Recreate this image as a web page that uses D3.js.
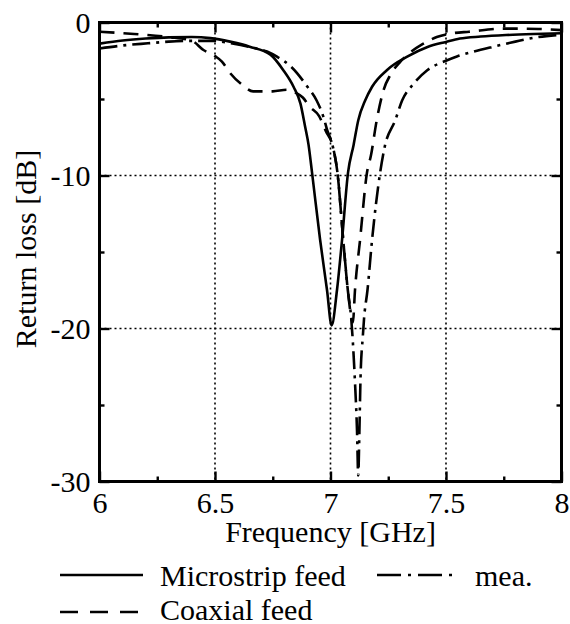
<!DOCTYPE html>
<html><head><meta charset="utf-8">
<script src="https://cdn.jsdelivr.net/npm/d3@7"></script>
<style>body{margin:0;background:#fff}svg{display:block}</style>
</head><body>
<script>
// Data (frequency in GHz, return loss in dB)
const microFreq = [6.00,6.10,6.20,6.30,6.40,6.48,6.565,6.65,6.74,6.795,6.84,6.87,6.89,6.905,6.92,6.955,6.985,7.005,7.028,7.05,7.076,7.10,7.12,7.15,7.18,7.245,7.33,7.42,7.50,7.56,7.65,7.76,7.88,8.00];
const microDB   = [-1.38,-1.18,-1.05,-0.97,-0.95,-1.02,-1.25,-1.58,-2.1,-3.1,-4.2,-5.3,-6.8,-8.0,-9.8,-14.2,-17.5,-19.8,-17.5,-14.2,-9.8,-8.0,-6.4,-5.1,-4.2,-3.1,-2.25,-1.6,-1.27,-1.05,-0.92,-0.82,-0.75,-0.7];
const coaxFreq = [6.00,6.15,6.30,6.40,6.45,6.50,6.53,6.565,6.62,6.665,6.75,6.81,6.85,6.88,6.91,6.95,6.98,7.01,7.03,7.055,7.075,7.097,7.106,7.128,7.158,7.175,7.20,7.23,7.26,7.30,7.35,7.40,7.46,7.53,7.60,7.75,7.90,8.00];
const coaxDB   = [-0.6,-0.75,-0.95,-1.2,-1.8,-2.2,-2.55,-3.3,-4.1,-4.5,-4.5,-4.4,-4.6,-4.9,-5.5,-6.1,-7.1,-8.1,-9.8,-14.2,-17.5,-19.6,-17.5,-14.2,-9.8,-8.7,-6.4,-4.4,-3.4,-2.6,-1.9,-1.4,-0.95,-0.7,-0.6,-0.4,-0.42,-0.5];
const meaFreq = [6.00,6.12,6.21,6.30,6.40,6.50,6.565,6.65,6.725,6.77,6.83,6.90,6.94,6.97,6.985,7.01,7.03,7.055,7.075,7.09,7.105,7.115,7.12,7.125,7.13,7.14,7.145,7.16,7.18,7.215,7.235,7.28,7.31,7.36,7.42,7.50,7.55,7.62,7.70,7.80,7.90,8.00];
const meaDB   = [-1.7,-1.47,-1.36,-1.25,-1.2,-1.2,-1.35,-1.6,-1.9,-2.25,-2.9,-4.2,-5.1,-6.2,-7.0,-8.1,-9.8,-14.2,-17.5,-19.4,-23.2,-26.8,-29.6,-26.8,-23.2,-20.5,-19.4,-17.5,-14.2,-9.8,-8.1,-6.4,-5.1,-4.0,-3.1,-2.5,-2.2,-1.9,-1.6,-1.25,-0.95,-0.8];
const xTicks = [6, 6.5, 7, 7.5, 8];
const xMinor = [6.25, 6.75, 7.25, 7.75];
const yTicks = [0, -10, -20, -30];
const yMinor = [-5, -15, -25];
const xGrid = [6.5, 7, 7.5];
const yGrid = [-10, -20];
const seriesNames = ["Microstrip feed", "mea.", "Coaxial feed"];

const W = 570, H = 624;
const L = 99.5, R = 561.5, T = 22.5, B = 481.5;
const FONT = "Liberation Serif";
const FS = 30;

const svg = d3.select("body").append("svg").attr("width", W).attr("height", H)
  .attr("font-family", FONT);

const x = d3.scaleLinear().domain([6, 8]).range([L, R]);
const y = d3.scaleLinear().domain([-30, 0]).range([B, T]);

// grid
const g = svg.append("g");
g.selectAll(".gx").data(xGrid).join("line")
  .attr("x1", d => x(d)).attr("x2", d => x(d)).attr("y1", T).attr("y2", B)
  .attr("stroke", "#000").attr("stroke-width", 1.6).attr("stroke-dasharray", "2,3");
g.selectAll(".gy").data(yGrid).join("line")
  .attr("x1", L).attr("x2", R).attr("y1", d => y(d)).attr("y2", d => y(d))
  .attr("stroke", "#000").attr("stroke-width", 1.6).attr("stroke-dasharray", "2,3");

// curves
const line = d3.line().x(d => x(d[0])).y(d => y(d[1])).curve(d3.curveMonotoneX);
const zip = (a, b) => a.map((v, i) => [v, b[i]]);
const styles = [
  {data: zip(microFreq, microDB), dash: null},
  {data: zip(meaFreq, meaDB), dash: "18,6,3,6"},
  {data: zip(coaxFreq, coaxDB), dash: "15,9"}
];
svg.append("defs").append("clipPath").attr("id", "clip")
  .append("rect").attr("x", L).attr("y", T).attr("width", R - L).attr("height", B - T);
const cg = svg.append("g").attr("clip-path", "url(#clip)");
styles.forEach(s => {
  cg.append("path").datum(s.data).attr("d", line)
    .attr("fill", "none").attr("stroke", "#000").attr("stroke-width", 2.6)
    .attr("stroke-dasharray", s.dash);
});

// axes
function styleAxis(sel) {
  sel.attr("font-family", FONT).attr("font-size", FS);
  sel.select(".domain").remove();
  sel.selectAll("line").attr("stroke", "#000").attr("stroke-width", 2.4);
  sel.selectAll("text").attr("fill", "#000").attr("font-family", FONT).attr("font-size", FS);
}
const fmt = d => String(d);
svg.append("g").attr("transform", `translate(0,${B})`)
  .call(d3.axisBottom(x).tickValues(xTicks).tickSize(-10).tickPadding(10).tickFormat(fmt)).call(styleAxis);
svg.append("g").attr("transform", `translate(0,${B})`)
  .call(d3.axisBottom(x).tickValues(xMinor).tickSize(-5).tickFormat("")).call(styleAxis);
svg.append("g").attr("transform", `translate(0,${T})`)
  .call(d3.axisTop(x).tickValues(xTicks).tickSize(-10).tickFormat("")).call(styleAxis);
svg.append("g").attr("transform", `translate(0,${T})`)
  .call(d3.axisTop(x).tickValues(xMinor).tickSize(-5).tickFormat("")).call(styleAxis);
svg.append("g").attr("transform", `translate(${L},0)`)
  .call(d3.axisLeft(y).tickValues(yTicks).tickSize(-10).tickPadding(9).tickFormat(fmt)).call(styleAxis);
svg.append("g").attr("transform", `translate(${L},0)`)
  .call(d3.axisLeft(y).tickValues(yMinor).tickSize(-5).tickFormat("")).call(styleAxis);
svg.append("g").attr("transform", `translate(${R},0)`)
  .call(d3.axisRight(y).tickValues(yTicks).tickSize(-10).tickFormat("")).call(styleAxis);
svg.append("g").attr("transform", `translate(${R},0)`)
  .call(d3.axisRight(y).tickValues(yMinor).tickSize(-5).tickFormat("")).call(styleAxis);

// frame
svg.append("rect").attr("x", L).attr("y", T).attr("width", R - L).attr("height", B - T)
  .attr("fill", "none").attr("stroke", "#000").attr("stroke-width", 3);

// axis titles
svg.append("text").attr("x", (L + R) / 2).attr("y", 542).attr("text-anchor", "middle")
  .attr("font-family", FONT).attr("font-size", FS).text("Frequency [GHz]");
svg.append("text").attr("transform", `translate(36,249) rotate(-90)`)
  .attr("text-anchor", "middle").attr("font-family", FONT).attr("font-size", FS).text("Return loss [dB]");

// legend
const legend = [
  {name: seriesNames[0], dash: null, x1: 60, x2: 143, y: 575, tx: 160, ty: 586},
  {name: seriesNames[1], dash: "24,7,3,7", x1: 377, x2: 457, y: 575, tx: 475, ty: 586},
  {name: seriesNames[2], dash: "18,12", x1: 60, x2: 143, y: 612, tx: 160, ty: 620}
];
legend.forEach(d => {
  svg.append("line").attr("x1", d.x1).attr("x2", d.x2).attr("y1", d.y).attr("y2", d.y)
    .attr("stroke", "#000").attr("stroke-width", 2.6).attr("stroke-dasharray", d.dash);
  svg.append("text").attr("x", d.tx).attr("y", d.ty).attr("font-family", FONT)
    .attr("font-size", FS).text(d.name);
});
</script>
</body></html>
